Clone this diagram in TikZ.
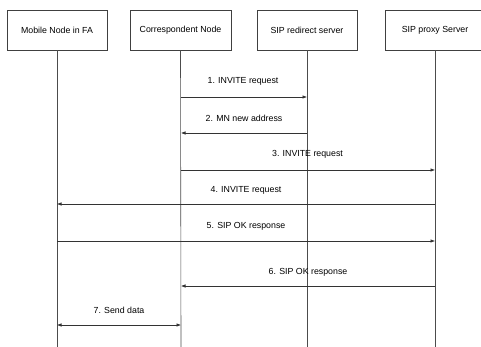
\documentclass[tikz,border=0pt]{standalone}
\usepackage{fontspec}
\setmainfont{Liberation Sans}
\usetikzlibrary{arrows.meta}
\begin{document}
\begin{tikzpicture}[x=1pt,y=-1pt,
  actor/.style={draw=black!75,line width=0.6pt,minimum width=100pt,minimum height=40pt,inner sep=0pt,font=\fontsize{8.8}{10}\selectfont},
  life/.style={draw=black!70,line width=0.6pt},
  msg/.style={draw=black!80,line width=0.6pt,-{Latex[length=4.5pt,width=3.5pt]}},
  lbl/.style={font=\fontsize{8.8}{10}\selectfont,inner sep=0pt}]
\useasboundingbox (0,0) rectangle (481,347);
\begin{scope}
\clip (0,0) rectangle (481,347);
\node[actor] (mn) at (57,30) {Mobile Node in FA};
\node[actor,minimum width=101pt] (cn) at (180.5,30) {Correspondent Node};
\node[actor] (rs) at (307,30) {SIP redirect server};
\node[actor] (ps) at (435,30) {SIP proxy Server};
\end{scope}
\coordinate (mnE) at (57,347);
\coordinate (cnE) at (181,347);
\coordinate (rsE) at (307,347);
\coordinate (psE) at (435,347);
\draw[life] (mn.south) -- (mnE);
\draw[life] (cn.south) -- (cnE);
\draw[life] (rs.south) -- (rsE);
\draw[life] (ps.south) -- (psE);
% message end points
\coordinate (c1) at (181,97);   \coordinate (r1) at (307,97);
\coordinate (r2) at (307,133);  \coordinate (c2) at (181,133);
\coordinate (c3) at (181,170);  \coordinate (p3) at (435,170);
\coordinate (p4) at (435,204);  \coordinate (m4) at (57,204);
\coordinate (m5) at (57,241);   \coordinate (p5) at (435,241);
\coordinate (p6) at (435,286);  \coordinate (c6) at (181,286);
\coordinate (m7) at (57,325);   \coordinate (c7) at (181,325);
\draw[msg] (c1) -- (r1);
\draw[msg] (r2) -- (c2);
\draw[msg] (c3) -- (p3);
\draw[msg] (p4) -- (m4);
\draw[msg] (m5) -- (p5);
\draw[msg] (p6) -- (c6);
\draw[msg,{Latex[length=4.5pt,width=3.5pt]}-{Latex[length=4.5pt,width=3.5pt]}] (m7) -- (c7);
\node[lbl] (l1) at (243,81) {1. INVITE request};
\node[lbl] (l2) at (244,118) {2. MN new address};
\node[lbl] (l3) at (307.5,154) {3. INVITE request};
\node[lbl] (l4) at (246,190) {4. INVITE request};
\node[lbl] (l5) at (246,226) {5. SIP OK response};
\node[lbl] (l6) at (308,272) {6. SIP OK response};
\node[lbl] (l7) at (119,310) {7. Send data};
\end{tikzpicture}
\end{document}
